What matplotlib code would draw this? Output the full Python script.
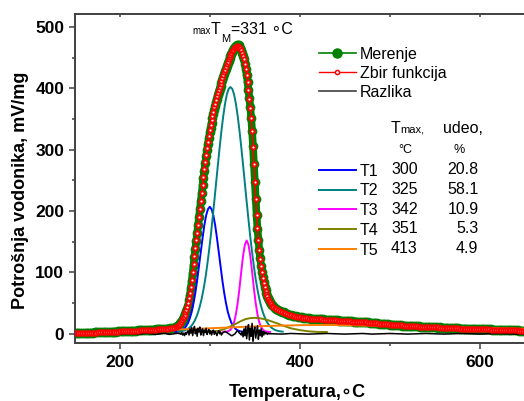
import numpy as np
import matplotlib
matplotlib.use("Agg")
import matplotlib.pyplot as plt
from matplotlib.lines import Line2D

plt.rcParams['font.family'] = ['Liberation Sans', 'DejaVu Sans']

# measured curve and sum of the fitted functions
temp = np.r_[150:265:2, 265:371, 372:651:2]
merenje_levo = [
    1, 1, 1.2, 1, 1.4, 1.5, 1.4, 1.7, 1.8, 2,
    2, 2.2, 2.3, 2.3, 2.5, 2.6, 2.8, 2.8, 3, 3.1,
    3.3, 3.4, 3.5, 3.6, 3.8, 4, 4, 4.2, 4.4, 4.5,
    4.6, 4.8, 5, 5, 5.2, 5.4, 5.5, 5.7, 5.9, 6,
    6.2, 6.4, 6.5, 6.7, 6.9, 7, 7.2, 7.4, 7.6, 7.8,
    8, 8.3, 8.6, 9, 9.5, 10, 11, 12.5,
]
merenje_pik = [
    13, 15, 17, 19, 21.5, 24, 27, 30, 33, 37, 41,
    46, 55, 64, 75, 86, 99, 112, 125, 138, 151,
    164, 177, 190, 203, 216, 229, 242, 254, 266, 278,
    289, 300, 310, 319, 328, 336, 344, 351, 358, 365,
    371, 377, 383, 389, 394, 399, 404, 409, 414, 419,
    423, 428, 432, 437, 441, 445, 449, 453, 456, 459,
    462, 465, 467, 469, 470, 471, 470, 468, 466, 462,
    458, 453, 447, 440, 431, 421, 410, 397, 384, 369,
    352, 331, 306, 277, 248, 219, 193, 171, 153, 137,
    123, 111, 100, 92, 84, 77, 71, 66, 62, 58,
    55, 52, 49, 47, 45,
]
merenje_desno = [
    42.5, 41, 39.3, 37.5, 36, 34.9, 33.5, 32.6, 31.4, 30.5,
    29.8, 28.9, 28.3, 27.5, 27, 26.7, 26.1, 25.9, 25.3, 25,
    24.9, 24.5, 24.5, 24.1, 24, 23.9, 23.5, 23.5, 23.1, 23,
    22.9, 22.5, 22.5, 22.1, 22, 21.9, 21.5, 21.5, 21.1, 21,
    20.9, 20.5, 20.5, 20.1, 20, 19.9, 19.5, 19.5, 19.1, 19,
    18.9, 18.5, 18.5, 18.1, 18, 17.8, 17.3, 17.2, 16.7, 16.5,
    16.3, 15.8, 15.7, 15.2, 15, 14.9, 14.5, 14.5, 14.1, 14,
    13.9, 13.5, 13.5, 13.1, 13, 12.9, 12.5, 12.5, 12.1, 12,
    11.9, 11.5, 11.5, 11.1, 11, 11, 10.7, 10.8, 10.5, 10.5,
    10.5, 10.2, 10.3, 10, 10, 9.9, 9.5, 9.5, 9.1, 9,
    9, 8.7, 8.8, 8.5, 8.5, 8.5, 8.2, 8.3, 8, 8,
    8, 7.7, 7.8, 7.5, 7.5, 7.5, 7.2, 7.3, 7, 7,
    7, 6.7, 6.8, 6.5, 6.5, 6.5, 6.2, 6.3, 6, 6,
    6, 5.7, 5.8, 5.5, 5.5, 5.5, 5.2, 5.3, 5, 5,
]
zbir_levo = [
    0.8, 0.9, 1, 1.1, 1.2, 1.3, 1.4, 1.5, 1.6, 1.8,
    1.9, 2, 2.1, 2.2, 2.4, 2.5, 2.6, 2.7, 2.9, 3,
    3.1, 3.3, 3.4, 3.5, 3.7, 3.8, 3.9, 4.1, 4.2, 4.4,
    4.5, 4.6, 4.8, 4.9, 5.1, 5.2, 5.4, 5.5, 5.7, 5.9,
    6, 6.2, 6.4, 6.5, 6.7, 6.9, 7.1, 7.3, 7.5, 7.7,
    7.9, 8.2, 8.5, 8.9, 9.4, 10, 11, 12.5,
]
zbir_pik = [
    13, 14, 16, 19, 22, 25, 28, 31, 35, 39, 44,
    50, 58, 67, 77, 88, 100, 113, 126, 139, 152,
    165, 178, 191, 204, 217, 230, 243, 256, 268, 280,
    292, 303, 313, 323, 332, 340, 348, 355, 362, 369,
    375, 381, 387, 392, 397, 402, 407, 412, 417, 421,
    426, 430, 435, 439, 443, 447, 451, 454, 457, 460,
    463, 465, 467, 468, 469, 469, 468, 467, 465, 462,
    458, 453, 447, 440, 431, 421, 410, 397, 383, 368,
    351, 330, 305, 276, 247, 219, 194, 172, 153, 137,
    122, 110, 100, 91, 83, 76, 70, 65, 61, 57,
    54, 51, 48, 46, 44,
]
zbir_desno = [
    42, 40.5, 39, 37.3, 35.8, 34.5, 33.3, 32.3, 31.2, 30.3,
    29.5, 28.7, 28, 27.3, 26.8, 26.4, 26, 25.6, 25.2, 24.9,
    24.7, 24.4, 24.2, 24, 23.8, 23.6, 23.4, 23.2, 23, 22.8,
    22.6, 22.4, 22.2, 22, 21.8, 21.6, 21.4, 21.2, 21, 20.8,
    20.6, 20.4, 20.2, 20, 19.8, 19.6, 19.4, 19.2, 19, 18.8,
    18.6, 18.4, 18.2, 18, 17.8, 17.5, 17.2, 16.9, 16.6, 16.3,
    16, 15.7, 15.5, 15.2, 15, 14.8, 14.6, 14.4, 14.2, 14,
    13.8, 13.6, 13.4, 13.2, 13, 12.8, 12.6, 12.4, 12.2, 12,
    11.8, 11.6, 11.4, 11.2, 11, 10.9, 10.8, 10.7, 10.6, 10.5,
    10.4, 10.3, 10.2, 10.1, 10, 9.8, 9.6, 9.4, 9.2, 9,
    8.9, 8.8, 8.7, 8.6, 8.5, 8.4, 8.3, 8.2, 8.1, 8,
    7.9, 7.8, 7.7, 7.6, 7.5, 7.4, 7.3, 7.2, 7.1, 7,
    6.9, 6.8, 6.7, 6.6, 6.5, 6.4, 6.3, 6.2, 6.1, 6,
    5.9, 5.8, 5.7, 5.6, 5.5, 5.4, 5.3, 5.2, 5.1, 5,
]
merenje = merenje_levo + merenje_pik + merenje_desno
zbir = zbir_levo + zbir_pik + zbir_desno

# difference (measured - sum)
temp_r = np.r_[150:266:5, 266:367, 370:651:10]
razlika = [
    0, 0.5, -0.5, 0, 0.5, 0, -0.5, 0, 0.5, 0, -0.5, 0, 0.5, 0, -0.5, 0, 1, 0, -1, 0, 1, -1, 0, 1,
    0, 1, -1, 2, -2, 1, -3, 2, -1, 3,
    5, -2, 8, 1, 10, -3, 6, 12, 0, 7, -4, 9, 3, 11, -2, 5, 8, -3, 6, 2, 9, -1, 4, 7, 0,
    5, -2, 3, 6, -1, 4, 1, -3, 2, 5, 0, 3, -2, 1, 2,
    3, 4, 3, 2, 1, 0, -1, -2, -3, -3, -2, -1, 0, 2, 4, 5, 3, 1, 0,
    -2, 4, -5, 8, -3, 12, -8, 6, 15, -10, 9, -4, 17, -12, 5, 11, -7, 3, 13, -9,
    6, -3, 8, -5, 4, -2, 3, 0, 2, -1, 1, 0,
    0, -0.5, 0.5, 0, -0.5, 0, 0.5, 0, -0.5, 0, 0.5, -0.5, 0, 0.5, 0,
    -0.5, 0, 0.5, 0, -0.5, 0, 0.5, 0, -0.5, 0, 0.5, 0, -0.5, 0,
]

# fitted components
t1_temp = np.arange(262, 341, 2)
t1 = [3, 3.5, 4, 5, 6.5, 9, 13, 18, 26, 36, 50, 67, 87, 110, 133, 156, 177, 193, 203, 207,
      203, 193, 177, 156, 133, 110, 87, 67, 50, 36, 26, 18, 13, 9, 6.5, 5, 4, 3.5, 3, 3]
t2_temp = np.arange(265, 382, 2)
t2 = [3.5, 3.8, 4.3, 5, 6, 7.4, 9.4, 12, 15.7, 20.5, 27, 35, 45, 57, 72, 89, 110, 133, 158,
      186, 215, 245, 275, 304, 331, 355, 375, 390, 399, 402, 399, 390, 375, 355, 331, 304,
      275, 245, 215, 186, 158, 133, 110, 89, 72, 57, 45, 35, 27, 20.5, 15.7, 12, 9.4, 7.4,
      6, 5, 4.3, 3.8, 3.5]
t3_temp = np.arange(315, 368, 2)
t3 = [3, 3.2, 3.6, 4.5, 6.6, 11, 18.6, 31.5, 50, 74, 101.5, 127, 145, 152,
      145, 127, 101.5, 74, 50, 31.5, 18.6, 11, 6.6, 4.5, 3.6, 3.2, 3]
t4_temp = np.arange(290, 431, 5)
t4 = [3, 3, 3.5, 4, 5, 7, 10, 13.5, 17, 21, 24, 25.5, 26, 25.5, 24, 22, 19.5, 17, 14, 11.5,
      9, 7.5, 6, 5, 4, 3.5, 3, 3, 3]
t5_temp = np.arange(150, 651, 10)
t5 = [2, 2.3, 2.6, 3, 3.3, 3.7, 4.1, 4.5, 5, 5.5, 6, 6.6, 7.2, 7.8, 8.4, 9, 9.6, 10.2, 10.8,
      11.4, 12, 12.5, 13, 13.4, 13.7, 14, 14.2, 14.3, 14.3, 14.2, 14, 13.8, 13.5, 13.2, 12.9,
      12.6, 12.3, 12, 11.7, 11.4, 11.1, 10.8, 10.5, 10.2, 9.9, 9.6, 9.3, 9, 8.7, 8.4, 8.1]

komp_labels = ['T1', 'T2', 'T3', 'T4', 'T5']
komp_colors = ['#0000ff', '#008080', '#ff00ff', '#808000', '#ff8000']
tmax = ['300', '325', '342', '351', '413']
udeo = ['20.8', '58.1', '10.9', '5.3', '4.9']

W, H = 524, 401


def fx(px):
    return px / W


def fy(py):
    return 1 - py / H


fig = plt.figure(figsize=(W / 100, H / 100), dpi=100)
ax = fig.add_axes([fx(74.7), fy(343), fx(524 - 74.7), (343 - 14) / H])

ax.plot(temp, merenje, color='#008000', lw=5.5, marker='o', ms=7, mew=0, zorder=2)
komp = [(t1_temp, t1), (t2_temp, t2), (t3_temp, t3), (t4_temp, t4), (t5_temp, t5)]
lines = []
for (tt, vv), c in zip(komp, komp_colors):
    l, = ax.plot(tt, vv, color=c, lw=1.4, zorder=3)
    lines.append(l)
ax.plot(temp_r, razlika, color='black', lw=1.1, zorder=4)
ax.plot(temp, zbir, color='red', lw=1.1, marker='o', ms=3, mfc='white', mec='red',
        mew=1.4, zorder=5)

ax.set_xlim(150, 649)
ax.set_ylim(-15, 521)

sc = '#404040'
for s in ['left', 'bottom', 'top']:
    ax.spines[s].set_color(sc)
    ax.spines[s].set_linewidth(1.4)
ax.spines['right'].set_visible(False)

ax.set_xticks([200, 400, 600])
ax.set_xticks([300, 500], minor=True)
ax.set_yticks([0, 100, 200, 300, 400, 500])
ax.set_yticks([50, 150, 250, 350, 450], minor=True)
ax.tick_params(axis='both', which='major', length=4.5, width=1.1, color=sc,
               labelsize=12.5, pad=3)
ax.tick_params(axis='both', which='minor', length=2.5, width=1.1, color=sc)
ax.tick_params(axis='x', which='major', pad=4)
for lab in ax.get_xticklabels() + ax.get_yticklabels():
    lab.set_fontweight('bold')

top = ax.secondary_xaxis('top')
top.set_xticks([200, 300, 400, 500, 600])
top.tick_params(direction='in', length=2.5, width=1.1, color=sc, labeltop=False)
top.spines['top'].set_visible(False)

ax.set_xlabel('Temperatura,\u2218C', fontsize=13, fontweight='bold')
ax.xaxis.set_label_coords((297 - 74.7) / 449.3, (343 - 397) / 329)
ax.xaxis.label.set_va('baseline')
ax.set_ylabel('Potrošnja vodonika, mV/mg', fontsize=13, fontweight='bold')
ax.yaxis.set_label_coords((29 - 74.7) / 449.3, (343 - 190) / 329)

# legend for measured / fitted / difference
h1 = [Line2D([], [], color='#008000', lw=1.2, marker='o', ms=6.5),
      Line2D([], [], color='red', lw=1, marker='o', ms=3, mfc='white', mew=1.1),
      Line2D([], [], color='#404040', lw=1.2)]
leg1 = ax.legend(h1, ['Merenje', 'Zbir funkcija', 'Razlika'], loc='upper left',
                 bbox_to_anchor=(fx(319), fy(46.5)), bbox_transform=fig.transFigure,
                 frameon=False, fontsize=11.5, borderpad=0, borderaxespad=0,
                 handlelength=2.3, handletextpad=0.25, labelspacing=0.26)
ax.add_artist(leg1)
ax.legend(lines, komp_labels, loc='upper left',
          bbox_to_anchor=(fx(319), fy(163.5)), bbox_transform=fig.transFigure,
          frameon=False, fontsize=11.5, borderpad=0, borderaxespad=0,
          handlelength=2.3, handletextpad=0.25, labelspacing=0.3)

rows = [170, 189.7, 209.3, 228.8, 248.3]
for y, a, b in zip(rows, tmax, udeo):
    fig.text(fx(391), fy(y), a, fontsize=11.5, va='center', ha='left')
    fig.text(fx(478.5), fy(y), b, fontsize=11.5, va='center', ha='right')

fig.text(fx(390.5), fy(133), 'T', fontsize=11.5, va='baseline')
fig.text(fx(400), fy(133), 'max,', fontsize=8, va='baseline')
fig.text(fx(398.5), fy(153), '°C', fontsize=9, va='baseline')
fig.text(fx(442.5), fy(133), 'udeo,', fontsize=11.5, va='baseline')
fig.text(fx(453.5), fy(153), '%', fontsize=9, va='baseline')

# peak annotation
fig.text(fx(192.5), fy(33.5), 'max', fontsize=7, va='baseline')
fig.text(fx(210.5), fy(33.5), 'T', fontsize=11.5, va='baseline')
fig.text(fx(221.5), fy(42.5), 'M', fontsize=8, va='baseline')
fig.text(fx(231.5), fy(33.5), '=331 \u2218C', fontsize=11.5, va='baseline')

fig.savefig('out.png', dpi=100)
